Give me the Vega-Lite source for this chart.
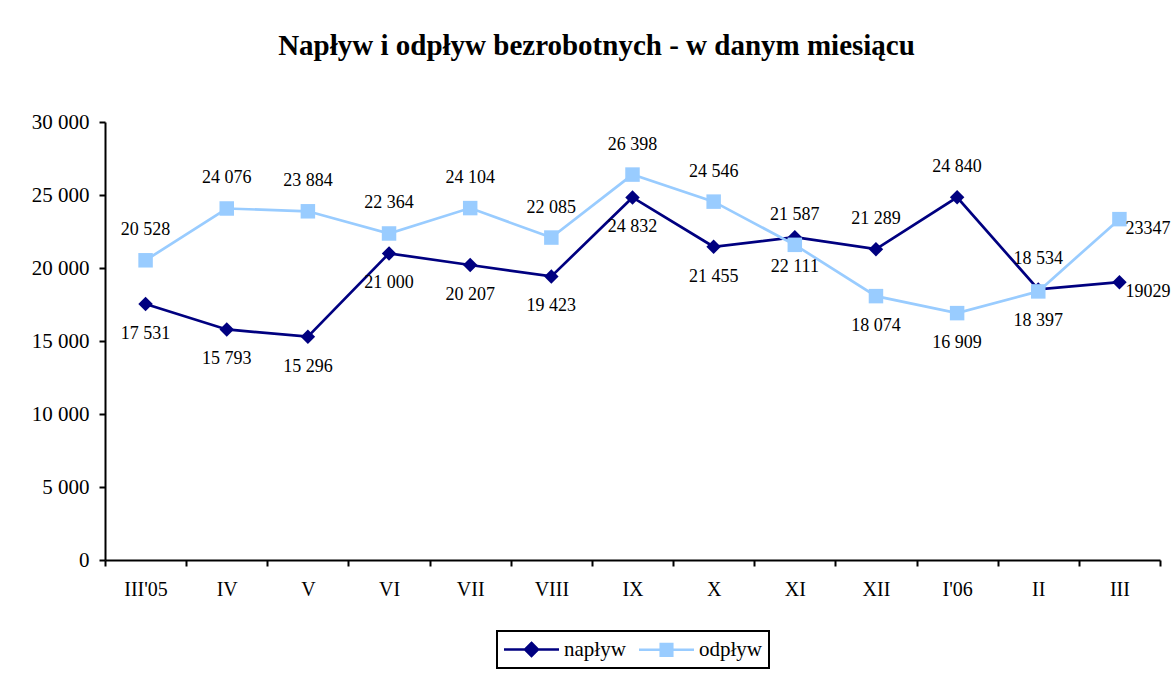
{
  "$schema": "https://vega.github.io/schema/vega-lite/v6.json",
  "width": 1055,
  "height": 438,
  "autosize": {"type": "none"},
  "padding": {"left": 105, "top": 122, "right": 14, "bottom": 116},
  "background": "white",
  "title": {
    "text": "Napływ i odpływ bezrobotnych - w danym miesiącu",
    "font": "Liberation Serif",
    "fontSize": 29,
    "fontWeight": "bold",
    "color": "black",
    "anchor": "middle",
    "dx": -36,
    "baseline": "alphabetic",
    "offset": 27
  },
  "config": {
    "locale": {"number": {"decimal": ",", "thousands": " ", "grouping": [3], "currency": ["", " zł"]}},
    "view": {"stroke": null},
    "font": "Liberation Serif"
  },
  "data": {
    "values": [
      {"month": "III'05", "series": "napływ", "value": 17531},
      {"month": "IV", "series": "napływ", "value": 15793},
      {"month": "V", "series": "napływ", "value": 15296},
      {"month": "VI", "series": "napływ", "value": 21000},
      {"month": "VII", "series": "napływ", "value": 20207},
      {"month": "VIII", "series": "napływ", "value": 19423},
      {"month": "IX", "series": "napływ", "value": 24832},
      {"month": "X", "series": "napływ", "value": 21455},
      {"month": "XI", "series": "napływ", "value": 22111},
      {"month": "XII", "series": "napływ", "value": 21289},
      {"month": "I'06", "series": "napływ", "value": 24840},
      {"month": "II", "series": "napływ", "value": 18534},
      {"month": "III", "series": "napływ", "value": 19029},
      {"month": "III'05", "series": "odpływ", "value": 20528},
      {"month": "IV", "series": "odpływ", "value": 24076},
      {"month": "V", "series": "odpływ", "value": 23884},
      {"month": "VI", "series": "odpływ", "value": 22364},
      {"month": "VII", "series": "odpływ", "value": 24104},
      {"month": "VIII", "series": "odpływ", "value": 22085},
      {"month": "IX", "series": "odpływ", "value": 26398},
      {"month": "X", "series": "odpływ", "value": 24546},
      {"month": "XI", "series": "odpływ", "value": 21587},
      {"month": "XII", "series": "odpływ", "value": 18074},
      {"month": "I'06", "series": "odpływ", "value": 16909},
      {"month": "II", "series": "odpływ", "value": 18397},
      {"month": "III", "series": "odpływ", "value": 23347}
    ]
  },
  "encoding": {
    "x": {
      "field": "month",
      "type": "nominal",
      "sort": ["III'05", "IV", "V", "VI", "VII", "VIII", "IX", "X", "XI", "XII", "I'06", "II", "III"],
      "scale": {"type": "band", "paddingInner": 0, "paddingOuter": 0},
      "axis": {
        "title": null,
        "labelAngle": 0,
        "tickBand": "extent",
        "grid": false,
        "domainColor": "black",
        "domainWidth": 2,
        "tickColor": "black",
        "tickWidth": 2,
        "tickSize": 6,
        "labelFont": "Liberation Serif",
        "labelFontSize": 20,
        "labelColor": "black",
        "labelPadding": 13
      }
    },
    "y": {
      "field": "value",
      "type": "quantitative",
      "scale": {"domain": [0, 30000], "nice": false},
      "axis": {
        "title": null,
        "values": [0, 5000, 10000, 15000, 20000, 25000, 30000],
        "format": ",d",
        "grid": false,
        "domainColor": "black",
        "domainWidth": 2,
        "tickColor": "black",
        "tickWidth": 2,
        "tickSize": 6,
        "labelFont": "Liberation Serif",
        "labelFontSize": 21,
        "labelColor": "black",
        "labelPadding": 10
      }
    },
    "color": {
      "field": "series",
      "type": "nominal",
      "scale": {"domain": ["napływ", "odpływ"], "range": ["#000080", "#99CCFF"]},
      "legend": {
        "title": null,
        "orient": "none",
        "legendX": 392,
        "legendY": 509,
        "direction": "horizontal",
        "strokeColor": "black",
        "padding": 7,
        "symbolSize": 400,
        "symbolStrokeWidth": 2.5,
        "symbolOpacity": 1,
        "symbolOffset": 16,
        "labelFont": "Liberation Serif",
        "labelFontSize": 21,
        "labelColor": "black",
        "columnPadding": 8,
        "labelOffset": 21,
        "encode": {
          "symbols": {
            "update": {
              "shape": {"signal": "datum.value === 'napływ' ? 'M-2.75,0H2.75M0,-0.65L0.65,0L0,0.65L-0.65,0Z' : 'M-2.75,0H2.75M-0.58,-0.58H0.58V0.58H-0.58Z'"},
              "fill": {"signal": "datum.value === 'napływ' ? '#000080' : '#99CCFF'"},
              "stroke": {"signal": "datum.value === 'napływ' ? '#000080' : '#99CCFF'"},
              "strokeWidth": {"value": 2.5},
              "opacity": {"value": 1}
            }
          },
          "legend": {"update": {"strokeWidth": {"value": 2}}}
        }
      }
    }
  },
  "layer": [
    {"mark": {"type": "line", "strokeWidth": 2.7}, "encoding": {}},
    {
      "transform": [{"filter": "datum.series === 'napływ'"}],
      "mark": {"type": "point", "filled": true, "opacity": 1, "size": 210, "shape": "diamond"}
    },
    {
      "transform": [{"filter": "datum.series === 'odpływ'"}],
      "mark": {"type": "point", "filled": true, "opacity": 1, "size": 210, "shape": "square"}
    },
    {
      "transform": [{"filter": "(datum.series === 'napływ' && indexof(['XII', \"I'06\", 'II', 'III'], datum.month) < 0) || (datum.series === 'odpływ' && indexof(['XII', \"I'06\", 'II'], datum.month) >= 0)"}],
      "mark": {"type": "text", "dy": 30, "baseline": "middle", "fontSize": 18, "font": "Liberation Serif"},
      "encoding": {
        "text": {"field": "value", "type": "quantitative", "format": ",d"},
        "color": {"value": "black"}
      }
    },
    {
      "transform": [{"filter": "datum.month !== 'III' && !((datum.series === 'napływ' && indexof(['XII', \"I'06\", 'II', 'III'], datum.month) < 0) || (datum.series === 'odpływ' && indexof(['XII', \"I'06\", 'II'], datum.month) >= 0))"}],
      "mark": {"type": "text", "dy": -30, "baseline": "middle", "fontSize": 18, "font": "Liberation Serif"},
      "encoding": {
        "text": {"field": "value", "type": "quantitative", "format": ",d"},
        "color": {"value": "black"}
      }
    },
    {
      "transform": [{"filter": "datum.month === 'III'"}],
      "mark": {"type": "text", "dx": 6, "dy": 10, "align": "left", "baseline": "middle", "fontSize": 18, "font": "Liberation Serif"},
      "encoding": {
        "text": {"field": "value", "type": "quantitative", "format": "d"},
        "color": {"value": "black"}
      }
    }
  ]
}
